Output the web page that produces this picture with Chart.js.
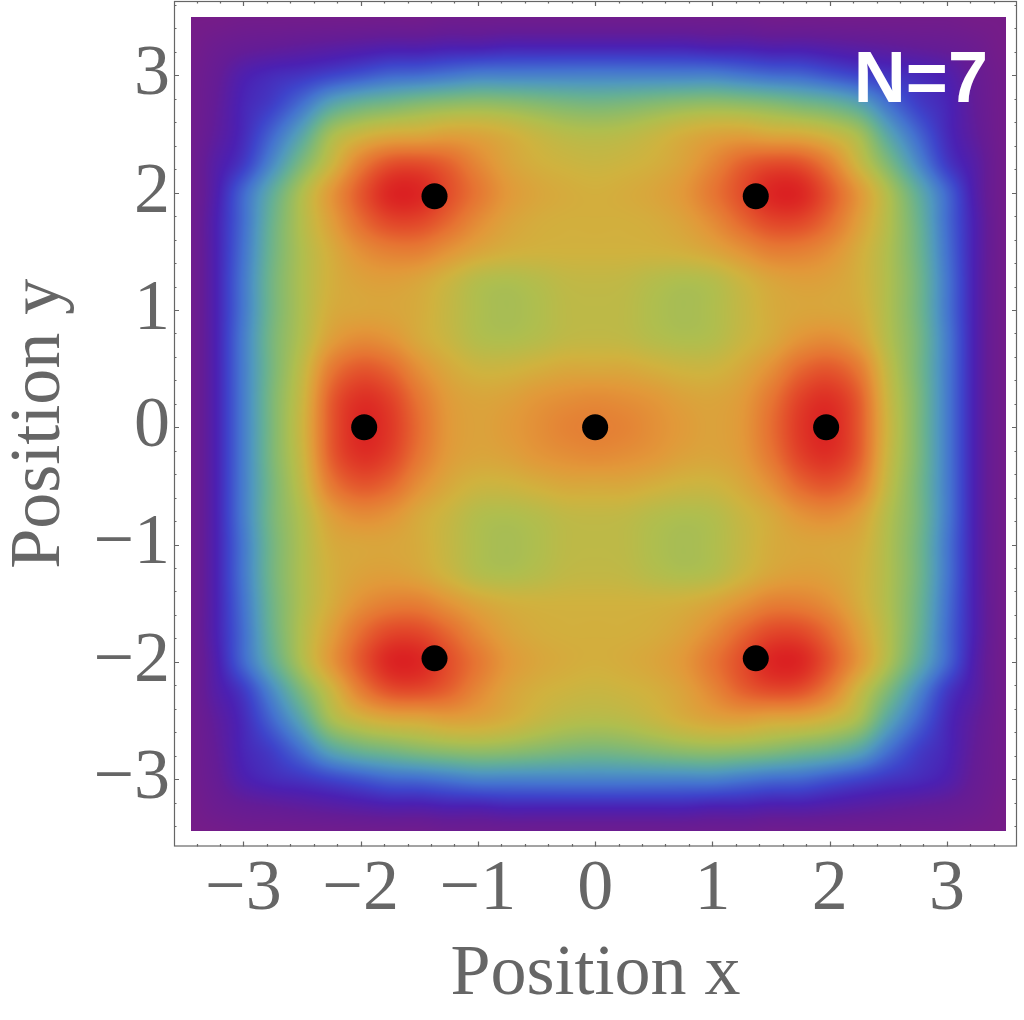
<!DOCTYPE html>
<html>
<head>
<meta charset="utf-8">
<script src="https://cdn.jsdelivr.net/npm/chart.js@4.4.1/dist/chart.umd.min.js"></script>
<style>
  html, body { margin: 0; padding: 0; background: #fff; }
  canvas { display: block; }
</style>
</head>
<body>
<canvas id="plot" width="1024" height="1020" style="width:1024px;height:1020px"></canvas>
<script>
/* ---------- Data ---------- */
// point positions (black dots)
const pointX = [0, -1.97, 1.97, -1.37, 1.37, -1.37, 1.37];
const pointY = [0, 0, 0, 1.97, 1.97, -1.97, -1.97];

// density grid (0 = purple edge, 1 = red core)
const gridX = [-3.5, -3.25, -3, -2.75, -2.5, -2.25, -2, -1.75, -1.5, -1.25, -1, -0.75, -0.5, -0.25, 0,
               0.25, 0.5, 0.75, 1, 1.25, 1.5, 1.75, 2, 2.25, 2.5, 2.75, 3, 3.25, 3.5];
const gridY = [3.5, 3.25, 3, 2.75, 2.5, 2.25, 2, 1.75, 1.5, 1.25, 1, 0.75, 0.5, 0.25, 0,
               -0.25, -0.5, -0.75, -1, -1.25, -1.5, -1.75, -2, -2.25, -2.5, -2.75, -3, -3.25, -3.5];
const density = [
  [0.01,0.01,0.02,0.02,0.02,0.02,0.02,0.02,0.02,0.03,0.03,0.03,0.03,0.03,0.03,0.03,0.03,0.03,0.03,0.03,0.02,0.02,0.02,0.02,0.02,0.02,0.02,0.01,0.01],
  [0.01,0.04,0.06,0.07,0.08,0.09,0.10,0.11,0.11,0.12,0.12,0.13,0.13,0.13,0.13,0.13,0.13,0.13,0.12,0.12,0.11,0.11,0.10,0.09,0.08,0.07,0.06,0.04,0.01],
  [0.02,0.06,0.12,0.15,0.17,0.20,0.23,0.26,0.27,0.29,0.31,0.31,0.31,0.31,0.31,0.31,0.31,0.31,0.31,0.29,0.27,0.26,0.23,0.20,0.17,0.15,0.12,0.06,0.02],
  [0.02,0.07,0.14,0.19,0.28,0.40,0.46,0.49,0.52,0.54,0.55,0.54,0.52,0.50,0.49,0.50,0.52,0.54,0.55,0.54,0.52,0.49,0.46,0.40,0.28,0.19,0.14,0.07,0.02],
  [0.02,0.08,0.15,0.26,0.40,0.58,0.66,0.70,0.71,0.73,0.72,0.69,0.65,0.62,0.61,0.62,0.65,0.69,0.72,0.73,0.71,0.70,0.66,0.58,0.40,0.26,0.15,0.08,0.02],
  [0.02,0.10,0.18,0.33,0.50,0.66,0.82,0.91,0.92,0.88,0.80,0.73,0.69,0.67,0.66,0.67,0.69,0.73,0.80,0.88,0.92,0.91,0.82,0.66,0.50,0.33,0.18,0.10,0.02],
  [0.02,0.11,0.26,0.43,0.60,0.76,0.90,0.99,0.99,0.92,0.84,0.76,0.72,0.70,0.69,0.70,0.72,0.76,0.84,0.92,0.99,0.99,0.90,0.76,0.60,0.43,0.26,0.11,0.02],
  [0.02,0.12,0.27,0.46,0.61,0.74,0.86,0.93,0.93,0.87,0.79,0.73,0.70,0.69,0.69,0.69,0.70,0.73,0.79,0.87,0.93,0.93,0.86,0.74,0.61,0.46,0.27,0.12,0.02],
  [0.02,0.12,0.28,0.47,0.60,0.70,0.78,0.82,0.82,0.77,0.72,0.69,0.68,0.68,0.68,0.68,0.68,0.69,0.72,0.77,0.82,0.82,0.78,0.70,0.60,0.47,0.28,0.12,0.02],
  [0.02,0.12,0.29,0.48,0.60,0.69,0.73,0.74,0.72,0.67,0.615,0.60,0.615,0.64,0.645,0.64,0.615,0.60,0.615,0.67,0.72,0.74,0.73,0.69,0.60,0.48,0.29,0.12,0.02],
  [0.02,0.12,0.29,0.48,0.60,0.70,0.72,0.72,0.70,0.65,0.60,0.585,0.60,0.63,0.635,0.63,0.60,0.585,0.60,0.65,0.70,0.72,0.72,0.70,0.60,0.48,0.29,0.12,0.02],
  [0.02,0.12,0.30,0.49,0.61,0.74,0.79,0.77,0.71,0.66,0.61,0.60,0.615,0.64,0.645,0.64,0.615,0.60,0.61,0.66,0.71,0.77,0.79,0.74,0.61,0.49,0.30,0.12,0.02],
  [0.02,0.12,0.30,0.49,0.64,0.83,0.90,0.87,0.78,0.71,0.67,0.67,0.69,0.71,0.71,0.71,0.69,0.67,0.67,0.71,0.78,0.87,0.90,0.83,0.64,0.49,0.30,0.12,0.02],
  [0.02,0.12,0.30,0.50,0.66,0.89,0.97,0.94,0.84,0.75,0.72,0.73,0.76,0.78,0.79,0.78,0.76,0.73,0.72,0.75,0.84,0.94,0.97,0.89,0.66,0.50,0.30,0.12,0.02],
  [0.02,0.12,0.30,0.50,0.67,0.90,0.99,0.96,0.86,0.76,0.73,0.75,0.78,0.81,0.82,0.81,0.78,0.75,0.73,0.76,0.86,0.96,0.99,0.90,0.67,0.50,0.30,0.12,0.02],
  [0.02,0.12,0.30,0.50,0.66,0.89,0.97,0.94,0.84,0.75,0.72,0.73,0.76,0.78,0.79,0.78,0.76,0.73,0.72,0.75,0.84,0.94,0.97,0.89,0.66,0.50,0.30,0.12,0.02],
  [0.02,0.12,0.30,0.49,0.64,0.83,0.90,0.87,0.78,0.71,0.67,0.67,0.69,0.71,0.71,0.71,0.69,0.67,0.67,0.71,0.78,0.87,0.90,0.83,0.64,0.49,0.30,0.12,0.02],
  [0.02,0.12,0.30,0.49,0.61,0.74,0.79,0.77,0.71,0.66,0.61,0.60,0.615,0.64,0.645,0.64,0.615,0.60,0.61,0.66,0.71,0.77,0.79,0.74,0.61,0.49,0.30,0.12,0.02],
  [0.02,0.12,0.29,0.48,0.60,0.70,0.72,0.72,0.70,0.65,0.60,0.585,0.60,0.63,0.635,0.63,0.60,0.585,0.60,0.65,0.70,0.72,0.72,0.70,0.60,0.48,0.29,0.12,0.02],
  [0.02,0.12,0.29,0.48,0.60,0.69,0.73,0.74,0.72,0.67,0.615,0.60,0.615,0.64,0.645,0.64,0.615,0.60,0.615,0.67,0.72,0.74,0.73,0.69,0.60,0.48,0.29,0.12,0.02],
  [0.02,0.12,0.28,0.47,0.60,0.70,0.78,0.82,0.82,0.77,0.72,0.69,0.68,0.68,0.68,0.68,0.68,0.69,0.72,0.77,0.82,0.82,0.78,0.70,0.60,0.47,0.28,0.12,0.02],
  [0.02,0.12,0.27,0.46,0.61,0.74,0.86,0.93,0.93,0.87,0.79,0.73,0.70,0.69,0.69,0.69,0.70,0.73,0.79,0.87,0.93,0.93,0.86,0.74,0.61,0.46,0.27,0.12,0.02],
  [0.02,0.11,0.26,0.43,0.60,0.76,0.90,0.99,0.99,0.92,0.84,0.76,0.72,0.70,0.69,0.70,0.72,0.76,0.84,0.92,0.99,0.99,0.90,0.76,0.60,0.43,0.26,0.11,0.02],
  [0.02,0.10,0.18,0.33,0.50,0.66,0.82,0.91,0.92,0.88,0.80,0.73,0.69,0.67,0.66,0.67,0.69,0.73,0.80,0.88,0.92,0.91,0.82,0.66,0.50,0.33,0.18,0.10,0.02],
  [0.02,0.08,0.15,0.26,0.40,0.58,0.66,0.70,0.71,0.73,0.72,0.69,0.65,0.62,0.61,0.62,0.65,0.69,0.72,0.73,0.71,0.70,0.66,0.58,0.40,0.26,0.15,0.08,0.02],
  [0.02,0.07,0.14,0.19,0.28,0.40,0.46,0.49,0.52,0.54,0.55,0.54,0.52,0.50,0.49,0.50,0.52,0.54,0.55,0.54,0.52,0.49,0.46,0.40,0.28,0.19,0.14,0.07,0.02],
  [0.02,0.06,0.12,0.15,0.17,0.20,0.23,0.26,0.27,0.29,0.31,0.31,0.31,0.31,0.31,0.31,0.31,0.31,0.31,0.29,0.27,0.26,0.23,0.20,0.17,0.15,0.12,0.06,0.02],
  [0.01,0.04,0.06,0.07,0.08,0.09,0.10,0.11,0.11,0.12,0.12,0.13,0.13,0.13,0.13,0.13,0.13,0.13,0.12,0.12,0.11,0.11,0.10,0.09,0.08,0.07,0.06,0.04,0.01],
  [0.01,0.01,0.02,0.02,0.02,0.02,0.02,0.02,0.02,0.03,0.03,0.03,0.03,0.03,0.03,0.03,0.03,0.03,0.03,0.03,0.02,0.02,0.02,0.02,0.02,0.02,0.02,0.01,0.01]
];

// extent of the coloured square
const heatXMin = -3.445, heatXMax = 3.5, heatYMin = -3.44, heatYMax = 3.5;

// rainbow colour scale
const cmapStops = [0, 0.07, 0.13, 0.20, 0.28, 0.36, 0.44, 0.52, 0.60, 0.68, 0.76, 0.85, 0.93, 1];
const cmapColors = [
  [120,28,134],[100,28,150],[75,32,178],[62,68,203],[68,115,207],[80,152,190],[100,175,150],
  [135,186,110],[175,190,78],[208,178,62],[226,152,57],[230,115,50],[226,72,42],[219,33,34]
];

// axes
const xTickValues = [-3, -2, -1, 0, 1, 2, 3];
const xTickLabels = ["\u22123", "\u22122", "\u22121", "0", "1", "2", "3"];
const yTickValues = [-3, -2, -1, 0, 1, 2, 3];
const yTickLabels = ["\u22123", "\u22122", "\u22121", "0", "1", "2", "3"];
const xRange = [-3.592, 3.598];
const yRange = [-3.574, 3.634];
const panelLabel = { text: "N=7", x: 3.35, y: 2.77 };

const FRAME = "#666666";
const SERIF = "'Liberation Serif', 'Times New Roman', serif";

/* ---------- Helpers ---------- */
function catmull(p0, p1, p2, p3, t) {
  return p1 + 0.5 * t * (p2 - p0 + t * (2*p0 - 5*p1 + 4*p2 - p3 + t * (3*(p1 - p2) + p3 - p0)));
}
function rowAt(r, fx) {
  const n = gridX.length;
  const i = Math.floor(fx), t = fx - i;
  const c = k => density[r][Math.min(n - 1, Math.max(0, k))];
  return catmull(c(i-1), c(i), c(i+1), c(i+2), t);
}
function sampleDensity(xv, yv) {
  const fx = Math.min(gridX.length - 1, Math.max(0, (xv - gridX[0]) / (gridX[1] - gridX[0])));
  const fy = Math.min(gridY.length - 1, Math.max(0, (yv - gridY[0]) / (gridY[1] - gridY[0])));
  const m = gridY.length;
  const j = Math.floor(fy), t = fy - j;
  const r = k => rowAt(Math.min(m - 1, Math.max(0, k)), fx);
  return catmull(r(j-1), r(j), r(j+1), r(j+2), t);
}
function colourFor(v) {
  v = Math.min(1, Math.max(0, v));
  let k = 0;
  while (k < cmapStops.length - 2 && v > cmapStops[k+1]) k++;
  const t = (v - cmapStops[k]) / (cmapStops[k+1] - cmapStops[k]);
  const a = cmapColors[k], b = cmapColors[k+1];
  return [a[0] + (b[0]-a[0])*t, a[1] + (b[1]-a[1])*t, a[2] + (b[2]-a[2])*t];
}

/* ---------- Plugins ---------- */
const densityPlugin = {
  id: "density",
  beforeDatasetsDraw(chart) {
    const { ctx, scales: { x, y } } = chart;
    const left = Math.round(x.getPixelForValue(heatXMin));
    const right = Math.round(x.getPixelForValue(heatXMax));
    const top = Math.round(y.getPixelForValue(heatYMax));
    const bottom = Math.round(y.getPixelForValue(heatYMin));
    const w = right - left, h = bottom - top;
    const off = document.createElement("canvas");
    off.width = w; off.height = h;
    const octx = off.getContext("2d");
    const img = octx.createImageData(w, h);
    for (let py = 0; py < h; py++) {
      const yv = y.getValueForPixel(top + py + 0.5);
      for (let px = 0; px < w; px++) {
        const xv = x.getValueForPixel(left + px + 0.5);
        const c = colourFor(sampleDensity(xv, yv));
        const o = (py * w + px) * 4;
        img.data[o] = c[0]; img.data[o+1] = c[1]; img.data[o+2] = c[2]; img.data[o+3] = 255;
      }
    }
    octx.putImageData(img, 0, 0);
    ctx.drawImage(off, left, top);
  }
};

const framePlugin = {
  id: "frame",
  afterDraw(chart) {
    const { ctx, chartArea: a, scales: { x, y } } = chart;
    ctx.save();
    ctx.strokeStyle = FRAME;
    ctx.lineWidth = 1.2;
    ctx.strokeRect(a.left + 0.5, a.top + 0.5, a.right - a.left - 1, a.bottom - a.top - 1);
    // inward frame ticks: major at integers, minor every 0.2
    ctx.beginPath();
    for (let k = -18; k <= 18; k++) {
      const v = k / 5;
      const len = k % 5 === 0 ? 5 : 2.5;
      if (v > x.min && v < x.max) {
        const px = Math.round(x.getPixelForValue(v)) + 0.5;
        ctx.moveTo(px, a.bottom); ctx.lineTo(px, a.bottom - len);
        ctx.moveTo(px, a.top); ctx.lineTo(px, a.top + len);
      }
      if (v > y.min && v < y.max) {
        const py = Math.round(y.getPixelForValue(v)) + 0.5;
        ctx.moveTo(a.left, py); ctx.lineTo(a.left + len, py);
        ctx.moveTo(a.right, py); ctx.lineTo(a.right - len, py);
      }
    }
    ctx.stroke();
    // panel label
    ctx.fillStyle = "#ffffff";
    ctx.font = "bold 72px 'Liberation Sans', Arial, sans-serif";
    ctx.textAlign = "right";
    ctx.textBaseline = "alphabetic";
    ctx.fillText(panelLabel.text, x.getPixelForValue(panelLabel.x), y.getPixelForValue(panelLabel.y));
    ctx.restore();
  }
};

/* ---------- Chart ---------- */
const tickFont = { family: SERIF, size: 72, lineHeight: 1 };

new Chart(document.getElementById("plot").getContext("2d"), {
  type: "scatter",
  data: {
    datasets: [{
      data: pointX.map((v, i) => ({ x: v, y: pointY[i] })),
      backgroundColor: "#000000",
      borderWidth: 0,
      pointRadius: 13,
      pointHoverRadius: 13
    }]
  },
  options: {
    responsive: false,
    animation: false,
    events: [],
    layout: { autoPadding: false, padding: { left: 0, top: 1, right: 7, bottom: 0 } },
    plugins: { legend: { display: false }, tooltip: { enabled: false } },
    scales: {
      x: {
        type: "linear",
        min: xRange[0], max: xRange[1],
        grid: { display: false, drawTicks: false },
        border: { display: false },
        afterBuildTicks: s => { s.ticks = xTickValues.map(v => ({ value: v })); },
        afterFit: s => { s.height = 173.5; s.paddingLeft = 0; s.paddingRight = 0; },
        ticks: {
          font: tickFont, color: FRAME, padding: 8, maxRotation: 0, autoSkip: false,
          callback: (v, i) => xTickLabels[i]
        },
        title: { display: true, text: "Position x", font: tickFont, color: FRAME, padding: { top: 0, bottom: 9 } }
      },
      y: {
        type: "linear",
        min: yRange[0], max: yRange[1],
        grid: { display: false, drawTicks: false },
        border: { display: false },
        afterBuildTicks: s => { s.ticks = yTickValues.map(v => ({ value: v })); },
        afterFit: s => { s.width = 174; s.paddingTop = 0; s.paddingBottom = 0; },
        ticks: {
          font: tickFont, color: FRAME, padding: 4, autoSkip: false,
          callback: (v, i) => yTickLabels[i]
        },
        title: { display: true, text: "Position y", font: tickFont, color: FRAME, padding: { top: 4, bottom: 0 } }
      }
    }
  },
  plugins: [densityPlugin, framePlugin]
});
</script>
</body>
</html>
